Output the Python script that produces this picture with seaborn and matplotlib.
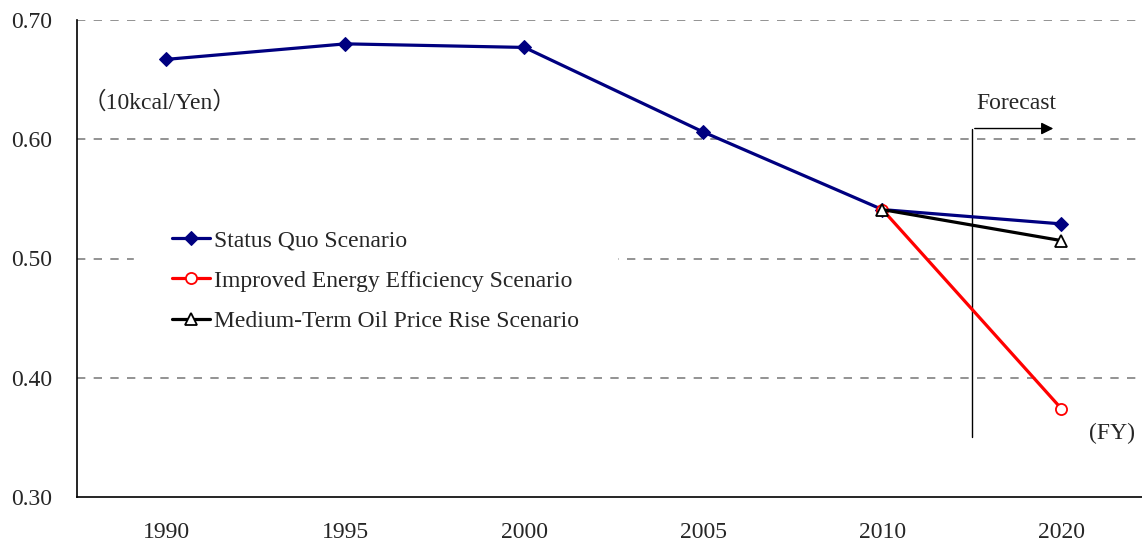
import matplotlib
matplotlib.use("Agg")
import matplotlib.pyplot as plt
import pandas as pd
import seaborn as sns
import numpy as np

years = ["1990", "1995", "2000", "2005", "2010", "2020"]
status_quo = [0.667, 0.680, 0.677, 0.606, 0.541, 0.529]
improved_years = ["2010", "2020"]
improved = [0.541, 0.374]
oil_years = ["2010", "2020"]
oil_rise = [0.541, 0.515]

pos = {y: i for i, y in enumerate(years)}
df_sq = pd.DataFrame({"x": [pos[y] for y in years], "v": status_quo})
df_ie = pd.DataFrame({"x": [pos[y] for y in improved_years], "v": improved})
df_oil = pd.DataFrame({"x": [pos[y] for y in oil_years], "v": oil_rise})

sns.set_style("white")
plt.rcParams["font.family"] = ["Liberation Serif", "Noto Sans CJK JP"]
fs = 17

fig = plt.figure(figsize=(11.42, 5.42), dpi=100)
ax = fig.add_axes([77 / 1142, 45 / 542, 1065 / 1142, 477 / 542])

sns.lineplot(data=df_sq, x="x", y="v", ax=ax, color="#000080", lw=2.3,
             marker="D", markersize=7, markeredgecolor="#000080",
             label="Status Quo Scenario", zorder=3)
sns.lineplot(data=df_ie, x="x", y="v", ax=ax, color="#ff0000", lw=2.3,
             marker="o", markersize=8, markerfacecolor="white",
             markeredgecolor="#ff0000", markeredgewidth=1.3,
             label="Improved Energy Efficiency Scenario", zorder=4)
sns.lineplot(data=df_oil, x="x", y="v", ax=ax, color="black", lw=2.3,
             marker="^", markersize=8, markerfacecolor="white",
             markeredgecolor="black", markeredgewidth=1.3,
             label="Medium-Term Oil Price Rise Scenario", zorder=5)

ax.set_xlim(-0.5, 5.45)
ax.set_ylim(0.30, 0.70)
yt = [0.30, 0.40, 0.50, 0.60, 0.70]
ax.set_yticks(yt)
ax.set_yticklabels(["%.2f" % t for t in yt])
for g in yt[1:]:
    ax.axhline(g, color="#808080", lw=1.2, ls=(0, (5, 5)), zorder=1)

ax.set_xticks(np.arange(0.5, 5.0, 1.0))
ax.set_xticklabels([])
ax.set_xticks(np.arange(len(years)), minor=True)
ax.set_xticklabels(years, minor=True)
ax.tick_params(axis="x", which="major", direction="in", length=6, width=1, color="black")
ax.tick_params(axis="x", which="minor", length=0, pad=18, labelsize=fs)
ax.tick_params(axis="y", length=0, pad=18, labelsize=fs)
ax.set_xlabel("")
ax.set_ylabel("")

for s in ["top", "right"]:
    ax.spines[s].set_visible(False)
for s in ["left", "bottom"]:
    ax.spines[s].set_color("black")
    ax.spines[s].set_linewidth(1.2)

leg = ax.legend(loc="upper left", bbox_to_anchor=(0.0535, 0.640), frameon=True,
                fontsize=fs, handlelength=1.6, handletextpad=0.2,
                labelspacing=0.81, borderpad=1.6, borderaxespad=0)
leg.get_frame().set_edgecolor("white")
leg.get_frame().set_facecolor("white")
leg.get_frame().set_alpha(1)
leg.set_zorder(2)

# forecast marker
ax.plot([4.5, 4.5], [0.35, 0.609], color="black", lw=1, zorder=2)
ax.annotate("", xy=(4.97, 0.609), xytext=(4.5, 0.609),
            arrowprops=dict(arrowstyle="-|>", color="black", lw=1, mutation_scale=18))
ax.text(4.75, 0.630, "Forecast", ha="center", va="center", fontsize=fs)
ax.text(-0.47, 0.631, "（10kcal/Yen）", ha="left", va="center", fontsize=fs)
ax.text(5.155, 0.353, "(FY)", ha="left", va="center", fontsize=fs)

fig.savefig("out.png", dpi=100)
